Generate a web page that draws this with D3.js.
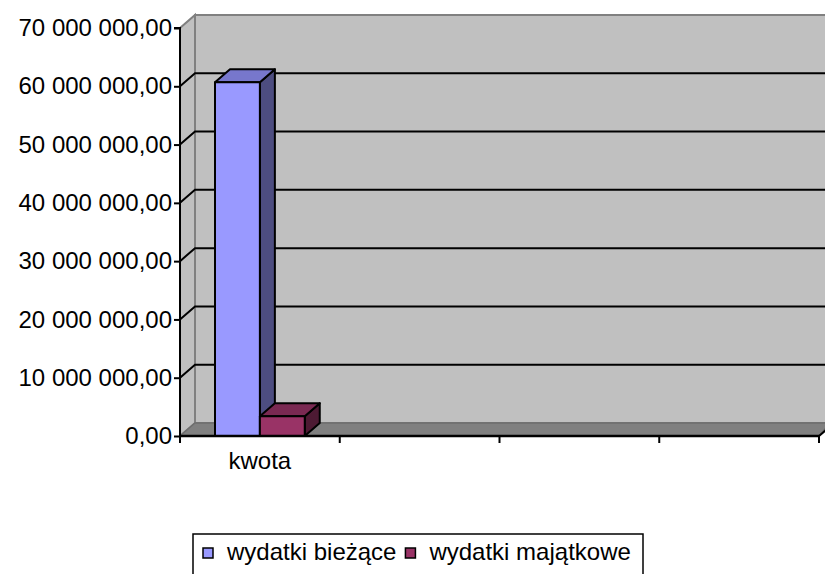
<!DOCTYPE html>
<html lang="pl">
<head>
<meta charset="UTF-8">
<title>wydatki</title>
<script src="https://cdn.jsdelivr.net/npm/d3@7"></script>
<style>
  body{ margin:0; background:#fff; }
  svg{ display:block; font-family:"Liberation Sans", Arial, sans-serif; }
</style>
</head>
<body>
<script>
// data
const categories = ["kwota", "", "", ""];
const seriesNames = ["wydatki bieżące", "wydatki majątkowe"];
const seriesValues = [60700000, 3400000];   // only "kwota" has values
const yTicks = [0, 10e6, 20e6, 30e6, 40e6, 50e6, 60e6, 70e6];

const colors = [
  {front:"#9999ff", top:"#7777cc", side:"#4d4d80"},
  {front:"#993366", top:"#7a2952", side:"#4d1a33"}
];

const W = 825, H = 574;
const m = {left:180, right:6, top:28, bottom:138};
const depth = {dx:15, dy:-13};

const svg = d3.select("body").append("svg")
  .attr("width", W).attr("height", H);

const x = d3.scaleLinear().domain([0, categories.length]).range([m.left, 819]);
const y = d3.scaleLinear().domain([0, 70e6]).range([436, m.top]);

// bars within the first slot
const inner = d3.scaleBand().domain(d3.range(seriesNames.length))
  .range([x(0), x(1)]).paddingInner(0).paddingOuter(0.78);

const fmt = v => d3.format(",.2f")(v).replace(/,/g, " ").replace(".", ",");

// back wall
svg.append("rect")
  .attr("x", x(0)+depth.dx).attr("y", y(70e6)+depth.dy)
  .attr("width", W - x(0)).attr("height", y(0)-y(70e6))
  .attr("fill", "#c0c0c0").attr("stroke", "#808080").attr("stroke-width", 2);

// side wall
svg.append("path")
  .attr("d", `M${x(0)},${y(0)} L${x(0)},${y(70e6)} l${depth.dx},${depth.dy} L${x(0)+depth.dx},${y(0)+depth.dy} Z`)
  .attr("fill", "#c0c0c0").attr("stroke", "#808080").attr("stroke-width", 2);

// floor
svg.append("path")
  .attr("d", `M${x(0)},${y(0)} l${depth.dx},${depth.dy} L${W+5},${y(0)+depth.dy} L${x(4)},${y(0)} Z`)
  .attr("fill", "#808080").attr("stroke", "#6e6e6e").attr("stroke-width", 1.5);

// gridlines
const grid = svg.append("g");
yTicks.filter(t => t > 0 && t < 70e6).forEach(t => {
  grid.append("path")
    .attr("d", `M${x(0)},${y(t)} l${depth.dx},${depth.dy} L${W},${y(t)+depth.dy}`)
    .attr("fill", "none").attr("stroke", "#000").attr("stroke-width", 2);
});

// bars
seriesValues.forEach((v, i) => {
  const x0 = inner(i), bw = inner.bandwidth();
  const y0 = y(0), y1 = y(v);
  const c = colors[i];
  const g = svg.append("g").attr("stroke", "#000").attr("stroke-width", 2).attr("stroke-linejoin", "round");
  g.append("path").attr("fill", c.side)
    .attr("d", `M${x0+bw},${y0} L${x0+bw},${y1} l${depth.dx},${depth.dy} L${x0+bw+depth.dx},${y0+depth.dy} Z`);
  g.append("path").attr("fill", c.top)
    .attr("d", `M${x0},${y1} l${depth.dx},${depth.dy} L${x0+bw+depth.dx},${y1+depth.dy} L${x0+bw},${y1} Z`);
  g.append("rect").attr("fill", c.front)
    .attr("x", x0).attr("y", y1).attr("width", bw).attr("height", y0-y1);
});

// y axis
const yAxis = d3.axisLeft(y).tickValues(yTicks).tickFormat(fmt).tickSize(6).tickPadding(2);
const ya = svg.append("g").attr("transform", `translate(${x(0)},0)`).call(yAxis);
ya.select(".domain").attr("stroke-width", 2).attr("d", `M-6,${y(70e6)}H0V${y(0)}`);
ya.selectAll(".tick line").attr("stroke-width", 2);
ya.selectAll("text").attr("font-size", 24).attr("fill", "#000")
  .attr("font-family", "Liberation Sans, Arial, sans-serif");

// x axis
const xa = svg.append("g");
xa.append("line").attr("x1", x(0)).attr("x2", x(4)).attr("y1", y(0)).attr("y2", y(0))
  .attr("stroke", "#000").attr("stroke-width", 2.5);
xa.append("line").attr("x1", x(4)).attr("x2", x(4)+7).attr("y1", y(0)).attr("y2", y(0)-6)
  .attr("stroke", "#000").attr("stroke-width", 2);
d3.range(categories.length + 1).forEach(i => {
  xa.append("line").attr("x1", x(i)).attr("x2", x(i)).attr("y1", y(0)).attr("y2", y(0)+7)
    .attr("stroke", "#000").attr("stroke-width", 2);
});
categories.forEach((c, i) => {
  xa.append("text").attr("x", (x(i)+x(i+1))/2).attr("y", 469)
    .attr("text-anchor", "middle").attr("font-size", 24).text(c);
});

// legend
const lg = svg.append("g");
lg.append("rect").attr("x", 193).attr("y", 534).attr("width", 450).attr("height", 50)
  .attr("fill", "#fff").attr("stroke", "#000").attr("stroke-width", 1.5);
let lx = 203;
seriesNames.forEach((n, i) => {
  lg.append("rect").attr("x", lx).attr("y", 548).attr("width", 10).attr("height", 10)
    .attr("fill", colors[i].front).attr("stroke", "#000").attr("stroke-width", 1.5);
  const t = lg.append("text").attr("x", lx + 24).attr("y", 560).attr("font-size", 24).text(n);
  lx += 24 + t.node().getComputedTextLength() + 9;
});
</script>
</body>
</html>
